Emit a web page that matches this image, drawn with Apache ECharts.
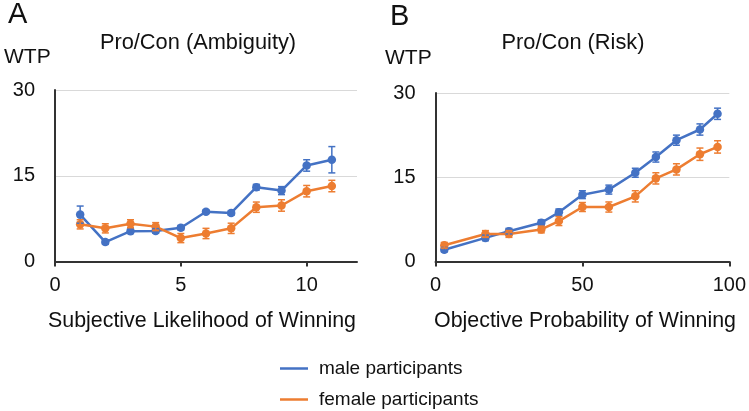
<!DOCTYPE html>
<html>
<head>
<meta charset="utf-8">
<script src="https://cdn.jsdelivr.net/npm/echarts@6/dist/echarts.min.js"></script>
<style>
html,body{margin:0;padding:0;background:#fff;}
#c{width:749px;height:411px;}
</style>
</head>
<body>
<div id="c"></div>
<script>
// Panel A: Pro/Con (Ambiguity)
const xA = [1, 2, 3, 4, 5, 6, 7, 8, 9, 10, 11];
const maleA = [8.2, 3.4, 5.3, 5.35, 5.9, 8.7, 8.5, 13.0, 12.4, 16.8, 17.8];
const maleAErr = [1.5, 0.4, 0.4, 0.4, 0.4, 0.3, 0.4, 0.5, 0.7, 1.0, 2.3];
const femaleA = [6.5, 5.8, 6.6, 6.1, 4.1, 4.9, 5.8, 9.5, 9.8, 12.3, 13.2];
const femaleAErr = [0.8, 0.8, 0.7, 0.7, 0.8, 0.9, 0.9, 0.9, 1.0, 1.0, 1.0];

// Panel B: Pro/Con (Risk)
const xB = [3, 17, 25, 36, 42, 50, 59, 68, 75, 82, 90, 96];
const maleB = [2.1, 4.2, 5.4, 6.9, 8.75, 11.9, 12.8, 15.8, 18.6, 21.6, 23.5, 26.3];
const maleBErr = [0.4, 0.5, 0.5, 0.5, 0.6, 0.7, 0.8, 0.8, 0.9, 0.9, 1.0, 1.0];
const femaleB = [2.9, 4.9, 4.9, 5.7, 7.2, 9.7, 9.7, 11.6, 14.8, 16.4, 19.1, 20.4];
const femaleBErr = [0.5, 0.6, 0.6, 0.6, 0.8, 0.8, 0.9, 1.0, 1.0, 1.0, 1.1, 1.1];

const yTicks = [0, 15, 30];
const xTicksA = [0, 5, 10];
const xTicksB = [0, 50, 100];

const BLUE = '#4472C4';
const ORANGE = '#ED7D31';
const FONT = 'Liberation Sans, Arial, Helvetica, sans-serif';
const TXT = '#111';

function errData(xs, ys, es) {
  return xs.map((x, i) => [x, ys[i] - es[i], ys[i] + es[i]]);
}
function errSeries(name, idx, xs, ys, es, color) {
  return {
    type: 'custom', name: name, xAxisIndex: idx, yAxisIndex: idx, z: 4,
    silent: true,
    data: errData(xs, ys, es),
    renderItem: function (params, api) {
      const x = api.value(0), lo = api.value(1), hi = api.value(2);
      const p1 = api.coord([x, hi]);
      const p2 = api.coord([x, lo]);
      const cw = 3.5;
      const st = { stroke: color, lineWidth: 1.5 };
      return {
        type: 'group',
        children: [
          { type: 'line', shape: { x1: p1[0], y1: p1[1], x2: p2[0], y2: p2[1] }, style: st },
          { type: 'line', shape: { x1: p1[0] - cw, y1: p1[1], x2: p1[0] + cw, y2: p1[1] }, style: st },
          { type: 'line', shape: { x1: p2[0] - cw, y1: p2[1], x2: p2[0] + cw, y2: p2[1] }, style: st }
        ]
      };
    }
  };
}
function lineSeries(name, idx, xs, ys, color) {
  return {
    type: 'line', name: name, xAxisIndex: idx, yAxisIndex: idx, z: 3,
    data: xs.map((x, i) => [x, ys[i]]),
    symbol: 'circle', symbolSize: 8.5,
    lineStyle: { color: color, width: 2.5 },
    itemStyle: { color: color },
    animation: false
  };
}
function xAxis(idx, max, ticks) {
  return {
    type: 'value', gridIndex: idx, min: 0, max: max,
    axisLine: { show: true, onZero: false, lineStyle: { color: '#333', width: 2 } },
    axisTick: { show: true, inside: false, length: 5, customValues: ticks, lineStyle: { color: '#333', width: 2 } },
    axisLabel: { customValues: ticks, fontSize: 20, color: TXT, fontFamily: FONT, margin: 14 },
    splitLine: { show: false }
  };
}
function yAxis(idx) {
  return {
    type: 'value', gridIndex: idx, min: 0, max: 30, interval: 15,
    axisLine: { show: true, lineStyle: { color: '#333', width: 2 } },
    axisTick: { show: false },
    axisLabel: { fontSize: 20, color: TXT, fontFamily: FONT, margin: 20 },
    splitLine: { show: true, lineStyle: { color: '#d9d9d9', width: 1 } }
  };
}

const chart = echarts.init(document.getElementById('c'), null, { renderer: 'canvas' });
chart.setOption({
  animation: false,
  backgroundColor: '#fff',
  grid: [
    { left: 55, top: 90, width: 302, height: 171.5 },
    { left: 435.5, top: 93, width: 295.5, height: 168.5 }
  ],
  xAxis: [xAxis(0, 12, xTicksA), xAxis(1, 100, xTicksB)],
  yAxis: [yAxis(0), yAxis(1)],
  legend: {
    orient: 'vertical', left: 280, top: 359, height: 52, width: 250, padding: 0,
    data: [
      { name: 'male participants', icon: 'rect', itemStyle: { color: BLUE } },
      { name: 'female participants', icon: 'rect', itemStyle: { color: ORANGE } }
    ],
    itemWidth: 28, itemHeight: 2.5, itemGap: 12,
    textStyle: { fontSize: 19, color: TXT, fontFamily: FONT, padding: [0, 0, 0, 6] }
  },
  graphic: [
    { type: 'text', left: 8, top: 0, style: { text: 'A', font: '29px ' + FONT, fill: TXT } },
    { type: 'text', left: 390, top: 2, style: { text: 'B', font: '29px ' + FONT, fill: TXT } },
    { type: 'text', x: 198, y: 43, style: { text: 'Pro/Con (Ambiguity)', font: '21.8px ' + FONT, fill: TXT, align: 'center', verticalAlign: 'middle' } },
    { type: 'text', x: 573, y: 43, style: { text: 'Pro/Con (Risk)', font: '21.8px ' + FONT, fill: TXT, align: 'center', verticalAlign: 'middle' } },
    { type: 'text', x: 4, y: 57, style: { text: 'WTP', font: '21px ' + FONT, fill: TXT, align: 'left', verticalAlign: 'middle' } },
    { type: 'text', x: 385, y: 58, style: { text: 'WTP', font: '21px ' + FONT, fill: TXT, align: 'left', verticalAlign: 'middle' } },
    { type: 'text', x: 202, y: 321, style: { text: 'Subjective Likelihood of Winning', font: '21.4px ' + FONT, fill: TXT, align: 'center', verticalAlign: 'middle' } },
    { type: 'text', x: 585, y: 321, style: { text: 'Objective Probability of Winning', font: '21.4px ' + FONT, fill: TXT, align: 'center', verticalAlign: 'middle' } }
  ],
  series: [
    lineSeries('male participants', 0, xA, maleA, BLUE),
    lineSeries('female participants', 0, xA, femaleA, ORANGE),
    lineSeries('male participants', 1, xB, maleB, BLUE),
    lineSeries('female participants', 1, xB, femaleB, ORANGE),
    errSeries('male err A', 0, xA, maleA, maleAErr, BLUE),
    errSeries('female err A', 0, xA, femaleA, femaleAErr, ORANGE),
    errSeries('male err B', 1, xB, maleB, maleBErr, BLUE),
    errSeries('female err B', 1, xB, femaleB, femaleBErr, ORANGE)
  ]
});
</script>
</body>
</html>
